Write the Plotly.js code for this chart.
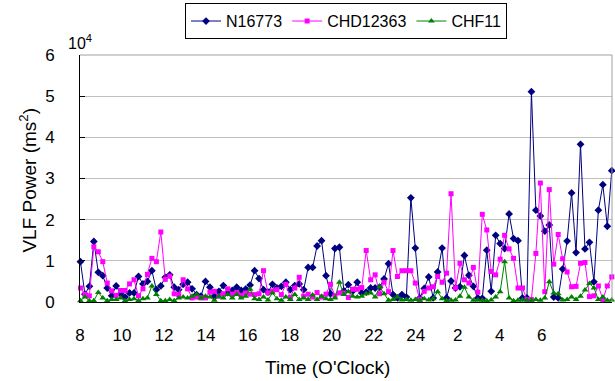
<!DOCTYPE html>
<html>
<head>
<meta charset="utf-8">
<script src="https://cdn.plot.ly/plotly-3.0.1.min.js"></script>
<style>html,body{margin:0;padding:0;background:#fff;}#chart{width:615px;height:381px;}</style>
</head>
<body>
<div id="chart"></div>
<script>
// VLF power in units of 10^4 ms^2, one value per sample (samples in time order from 8 o'clock)
const seriesNames = ["N16773", "CHD12363", "CHF11"];

const n16773 = [
  0.98,0.19,0.38,1.47,0.72,0.64,0.34,0.15,0.39,0.20,
  0.12,0.22,0.22,0.62,0.44,0.50,0.76,0.30,0.39,0.60,
  0.66,0.36,0.30,0.43,0.48,0.32,0.18,0.14,0.50,0.36,
  0.14,0.26,0.40,0.23,0.28,0.36,0.28,0.31,0.41,0.76,
  0.57,0.30,0.24,0.43,0.34,0.38,0.48,0.30,0.40,0.44,
  0.30,0.84,0.84,1.36,1.49,0.64,0.20,1.30,1.33,0.27,
  0.42,0.27,0.48,0.22,0.24,0.34,0.34,0.36,0.56,0.93,
  0.18,0.10,0.18,0.12,2.53,1.31,0.10,0.33,0.61,0.10,
  0.73,1.31,0.10,0.51,0.34,0.37,1.13,0.65,0.38,0.10,
  0.09,1.26,0.26,1.62,1.42,1.30,2.14,1.54,1.49,0.10,
  0.10,5.11,2.23,2.09,1.72,1.87,0.12,0.10,0.80,1.48,
  2.65,1.20,3.83,1.29,1.45,0.49,2.23,2.85,1.84,3.19
];

const chd12363 = [
  0.34,0.19,0.15,1.34,1.22,0.98,0.46,0.27,0.16,0.28,
  0.28,0.44,0.54,0.15,0.32,0.67,1.06,0.98,1.70,0.55,
  0.63,0.20,0.18,0.54,0.32,0.10,0.12,0.10,0.10,0.24,
  0.26,0.14,0.20,0.32,0.19,0.23,0.16,0.22,0.19,0.18,
  0.20,0.76,0.22,0.27,0.30,0.18,0.43,0.11,0.34,0.60,
  0.14,0.19,0.12,0.23,0.12,0.19,0.43,0.15,0.22,0.22,
  0.11,0.31,0.31,0.35,1.25,0.54,0.66,0.20,0.48,0.25,
  1.25,0.62,0.76,0.76,0.76,0.46,0.06,0.26,0.34,0.37,
  0.62,0.48,0.70,2.63,0.34,0.94,0.54,0.46,0.84,0.24,
  2.13,1.75,0.74,0.66,1.04,1.62,1.29,1.06,0.34,0.34,
  0.06,0.06,1.18,2.89,0.25,2.73,0.92,1.64,1.05,0.73,
  0.37,0.38,0.94,0.96,0.13,0.15,0.39,0.06,0.39,0.61
];

const chf11 = [
  0.03,0.12,0.03,0.03,0.23,0.10,0.03,0.06,0.06,0.10,
  0.03,0.06,0.08,0.03,0.08,0.10,0.39,0.18,0.03,0.03,
  0.06,0.03,0.10,0.12,0.10,0.14,0.18,0.10,0.14,0.12,
  0.04,0.14,0.10,0.18,0.10,0.18,0.10,0.14,0.31,0.08,
  0.06,0.12,0.05,0.22,0.08,0.04,0.12,0.06,0.18,0.06,
  0.10,0.06,0.17,0.06,0.14,0.08,0.06,0.10,0.48,0.18,
  0.25,0.14,0.12,0.14,0.20,0.22,0.12,0.37,0.20,0.04,
  0.06,0.12,0.05,0.06,0.04,0.06,0.04,0.08,0.05,0.08,
  0.25,0.08,0.03,0.04,0.05,0.14,0.36,0.12,0.04,0.05,
  0.04,0.03,0.05,0.12,0.25,0.98,0.10,0.03,0.04,0.05,
  0.05,0.04,0.06,0.04,0.10,0.49,0.22,0.20,0.05,0.06,
  0.12,0.06,0.14,0.29,0.45,0.34,0.06,0.12,0.04,0.05
];

const tickLabels = ["8","10","12","14","16","18","20","22","24","2","4","6"];
const yTicks = [0,1,2,3,4,5,6];

// layout constants (samples per 2-hour label step)
const STEP = 9.40, OFFSET = -0.1;

const FONT = "Liberation Sans, Arial, sans-serif";

const styles = [
  {color: "#000080", symbol: "diamond", size: 6},
  {color: "#FF00FF", symbol: "square", size: 5},
  {color: "#008000", symbol: "triangle-up", size: 6}
];
const dataSets = [n16773, chd12363, chf11];

const traces = dataSets.map((vals, k) => ({
  type: "scatter",
  mode: "lines+markers",
  name: seriesNames[k],
  y: vals,
  line: {color: styles[k].color, width: 1},
  marker: {color: styles[k].color, symbol: styles[k].symbol, size: styles[k].size, line: {width: 0}},
  cliponaxis: false
}));

const layout = {
  width: 615, height: 381,
  margin: {l: 80, r: 3, t: 53, b: 79},
  paper_bgcolor: "#fff", plot_bgcolor: "#fff",
  font: {family: FONT, color: "#000", size: 17},
  showlegend: true,
  legend: {
    orientation: "h",
    x: 0.5, xanchor: "center",
    y: 1.21, yanchor: "top",
    bordercolor: "#000", borderwidth: 1,
    font: {family: FONT, size: 16, color: "#000"},
    itemwidth: 30,
    tracegroupgap: 0
  },
  xaxis: {
    range: [-0.1, 119.05],
    tickmode: "array",
    tickvals: tickLabels.map((_, k) => OFFSET + k * STEP),
    ticktext: tickLabels,
    ticks: "",
    showgrid: false,
    zeroline: false,
    showline: true, linecolor: "#000", linewidth: 1,
    ticklabelstandoff: 18,
    tickfont: {family: FONT, size: 17}
  },
  yaxis: {
    range: [0, 6],
    tickmode: "array",
    tickvals: yTicks,
    ticktext: yTicks.map(String),
    ticks: "inside", ticklen: 5, tickcolor: "#000",
    showgrid: true, gridcolor: "#c0c0c0", gridwidth: 1,
    zeroline: false,
    showline: true, linecolor: "#000", linewidth: 1,
    ticklabelstandoff: 21,
    tickfont: {family: FONT, size: 17}
  },
  shapes: [
    {type: "line", xref: "paper", yref: "paper", x0: 0, x1: 1, y0: 1, y1: 1, line: {color: "#a0a0a0", width: 1}},
    {type: "line", xref: "paper", yref: "paper", x0: 1, x1: 1, y0: 0, y1: 1, line: {color: "#a0a0a0", width: 1}}
  ],
  annotations: [
    {text: "10<sup>4</sup>", xref: "paper", yref: "paper", x: -0.026, y: 1.10, xanchor: "left", yanchor: "top",
     showarrow: false, font: {family: FONT, size: 16}},
    {text: "Time (O'Clock)", xref: "paper", yref: "paper", x: 0.466, y: -0.265, xanchor: "center", yanchor: "middle",
     showarrow: false, font: {family: FONT, size: 19}},
    {text: "VLF Power (ms<sup>2</sup>)", xref: "paper", yref: "paper", x: -0.098, y: 0.495, xanchor: "center", yanchor: "middle",
     textangle: -90, showarrow: false, font: {family: FONT, size: 19}}
  ]
};

Plotly.newPlot("chart", traces, layout, {displayModeBar: false, staticPlot: true});
</script>
</body>
</html>
